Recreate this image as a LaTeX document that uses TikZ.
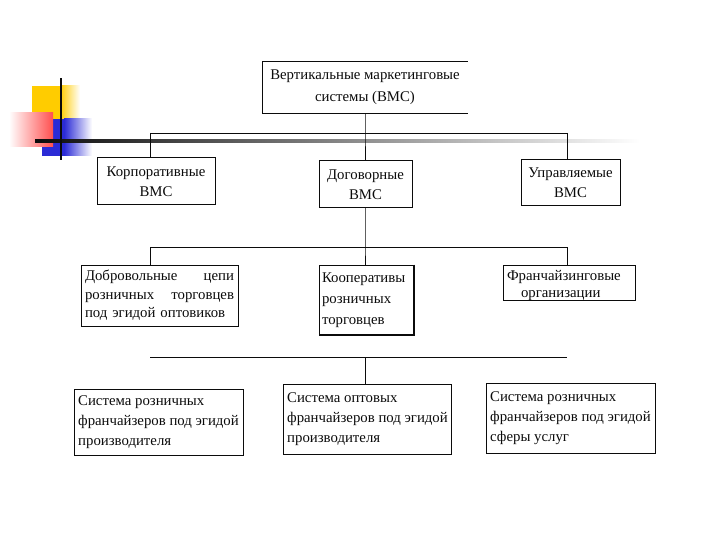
\documentclass[tikz,border=0pt]{standalone}
\usepackage{fontspec}
\setmainfont{Liberation Serif}
\usepackage{xcolor}
\usepackage{tikz}
\usetikzlibrary{positioning,calc}
\definecolor{cyellow}{HTML}{FFCC00}
\definecolor{cred}{HTML}{FF3030}
\definecolor{cblue}{HTML}{2B2BD6}
\definecolor{ink}{HTML}{0B0B0B}

\begin{document}
\begin{tikzpicture}[x=1pt,y=-1pt,
  frame/.style={draw=ink,line width=1pt},
  blk/.style={frame,text=ink,inner ysep=0pt,inner xsep=5pt,font=\fontsize{14.8}{20}\selectfont},
  wire/.style={draw=ink,line width=0.9pt}]
  \useasboundingbox (0,0) rectangle (720,540);
  \fill[cyellow] (32,86) rectangle (60,125);
  \shade[left color=cyellow,right color=white] (60,86) rectangle (80,125);
  \fill[cblue] (42,119) rectangle (64,156);
  \shade[left color=cblue,right color=white] (64,119) rectangle (92,156);
  \shade[left color=white,right color=cred!85] (9,113) rectangle (53,147);
  \shade[left color=ink,right color=white] (35,139.7) rectangle (640,142.3);
  \fill[ink] (59.8,78) rectangle (62.2,160);

  \node[blk,draw=none,minimum width=204pt,minimum height=51pt,align=center,font=\fontsize{14.8}{22}\selectfont] (vms) at (365,87.5) {Вертикальные маркетинговые\\системы (ВМС)};
  \draw[frame] (vms.north east) -- (vms.north west) -- (vms.south west) -- (vms.south east);

  \node[blk,minimum width=118pt,minimum height=47pt,align=center] (korp) at (156,181.5) {Корпоративные\\ВМС};
  \node[blk,minimum width=93pt,minimum height=47pt,align=center] (dogov) at (365.5,184.5) {Договорные\\ВМС};
  \node[blk,minimum width=99pt,minimum height=46pt,align=center] (upr) at (570.5,183) {Управляемые\\ВМС};

  \node[blk,minimum width=157pt,minimum height=61pt,text width=149pt,inner xsep=4pt,align=left,font=\fontsize{14.8}{18.5}\selectfont] (dobr) at (159.5,295.5) {Добровольные\hfill цепи\hspace*{6pt}\\розничных\hfill торговцев\\под эгидой оптовиков};
  \node[blk,minimum width=94pt,minimum height=70pt,text width=88pt,inner xsep=3pt,align=left,font=\fontsize{14.8}{21}\selectfont] (koop) at (366,300) {Кооперативы\\розничных\\торговцев};
  \draw[ink,line width=2.2pt] ([xshift=0.6pt]koop.north east) -- ([shift={(0.6pt,0.6pt)}]koop.south east) -- ([yshift=0.6pt]koop.south west);
  \node[blk,minimum width=132pt,minimum height=35pt,text width=124pt,inner xsep=4pt,align=left,font=\fontsize{14.8}{17}\selectfont] (fran) at (569,283) {\rule{0pt}{15pt}Франчайзинговые\\\hspace*{14pt}организации};

  \foreach \nm/\xx/\yy/\ww/\hh/\txt in {sysA/158.5/422/169/66/{Система розничных\\франчайзеров под эгидой\\производителя},
      sysB/367.5/419/167/70/{Система оптовых\\франчайзеров под эгидой\\производителя},
      sysC/570.5/418/169/70/{Система розничных\\франчайзеров под эгидой\\сферы услуг}} {
    \node[blk,minimum width=\ww pt,minimum height=\hh pt,inner xsep=4pt,align=left] (\nm) at (\xx,\yy) {\txt};
  }

  \foreach \lv/\yy in {1/133,2/247,3/357} {
    \coordinate (l\lv) at (150,\yy);
    \coordinate (j\lv) at (365,\yy);
    \coordinate (r\lv) at (567,\yy);
    \draw[wire] (l\lv) -- (r\lv);
  }
  \draw[wire] (vms.south -| j1) -- (j1) -- (dogov.north -| j1);
  \draw[wire] (l1) -- (l1 |- korp.north);
  \draw[wire] (r1) -- (r1 |- upr.north);
  \draw[wire] (dogov.south -| j2) -- (j2) -- (koop.north -| j2);
  \draw[wire] (l2) -- (l2 |- dobr.north);
  \draw[wire] (r2) -- (r2 |- fran.north);
  \draw[wire] (j3) -- (sysB.north -| j3);
\end{tikzpicture}
\end{document}
